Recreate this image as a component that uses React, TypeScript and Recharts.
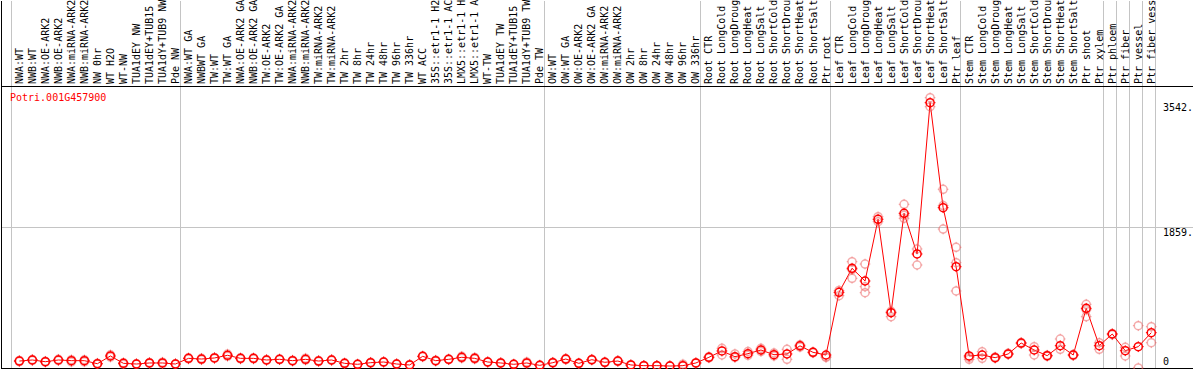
import React from "react";
import { ComposedChart, Line, XAxis, YAxis, ReferenceLine } from "recharts";

const labels: string[] = [
  "NWA:WT", "NWB:WT", "NWA:OE-ARK2", "NWB:OE-ARK2", "NWA:miRNA-ARK2", "NWB:miRNA-ARK2", "NW 0hr", "WT H2O", "WT-NW", "TUA1dEY NW", "TUA1dEY+TUB15", "TUA1dY+TUB9 NW", "Pde NW",
  "NWA:WT GA", "NWBWT GA", "TW:WT", "TW:WT GA", "NWA:OE-ARK2 GA", "NWB:OE-ARK2 GA", "TW:OE-ARK2", "TW:OE-ARK2 GA", "NWA:miRNA-ARK2", "NWB:miRNA-ARK2", "TW:miRNA-ARK2", "TW:miRNA-ARK2", "TW 2hr", "TW 8hr", "TW 24hr", "TW 48hr", "TW 96hr", "TW 336hr", "WT ACC", "35S::etr1-1 H2", "35S::etr1-1 AC", "LMX5::etr1-1 H", "LMX5::etr1-1 A", "WT-TW", "TUA1dEY TW", "TUA1dEY+TUB15", "TUA1dY+TUB9 TW", "Pde TW",
  "OW:WT", "OW:WT GA", "OW:OE-ARK2", "OW:OE-ARK2 GA", "OW:miRNA-ARK2", "OW:miRNA-ARK2", "OW 2hr", "OW 8hr", "OW 24hr", "OW 48hr", "OW 96hr", "OW 336hr",
  "Root CTR", "Root LongCold", "Root LongDroug", "Root LongHeat", "Root LongSalt", "Root ShortCold", "Root ShortDrou", "Root ShortHeat", "Root ShortSalt", "Ptr root",
  "Leaf CTR", "Leaf LongCold", "Leaf LongDroug", "Leaf LongHeat", "Leaf LongSalt", "Leaf ShortCold", "Leaf ShortDrou", "Leaf ShortHeat", "Leaf ShortSalt", "Ptr leaf",
  "Stem CTR", "Stem LongCold", "Stem LongDroug", "Stem LongHeat", "Stem LongSalt", "Stem ShortCold", "Stem ShortDrou", "Stem ShortHeat", "Stem ShortSalt", "Ptr shoot", "Ptr xylem",
  "Ptr phloem", "Ptr fiber", "Ptr vessel", "Ptr fiber vess",
];

const means: number[] = [
  72, 86, 63, 86, 77, 77, 36, 140, 41, 32, 46, 46, 32,
  108, 99, 113, 149, 108, 108, 86, 95, 77, 95, 72, 86, 41, 28, 50, 59, 32, 19, 135, 77, 95, 122, 108, 59, 46, 28, 46, 14,
  50, 99, 41, 90, 55, 72, 19, 10, 10, 5, 10, 46,
  122, 207, 130, 171, 220, 157, 167, 276, 189, 153,
  995, 1318, 1147, 1976, 721, 2056, 1510, 3542, 2132, 1339,
  140, 153, 117, 167, 314, 220, 144, 278, 153, 780, 278,
  435, 211, 265, 453,
];

const rep1: number[] = [
  80, 92, 58, 95, 60, 62, 30, 155, 30, 28, 40, 35, 30,
  115, 90, 120, 165, 100, 115, 80, 90, 70, 110, 65, 80, 35, 25, 45, 55, 28, 15, 140, 70, 100, 135, 120, 55, 40, 25, 60, 10,
  55, 105, 45, 95, 50, 78, 15, 8, 8, 4, 30, 50,
  130, 243, 167, 200, 243, 180, 230, 290, 195, 130,
  950, 1406, 1375, 2011, 668, 2177, 1577, 3609, 2379, 1600,
  95, 197, 125, 175, 320, 265, 150, 368, 160, 834, 318,
  440, 257, 547, 533,
];

const rep2: number[] = [
  65, 80, 68, 78, 90, 88, 42, 125, 50, 36, 52, 56, 34,
  100, 108, 106, 135, 115, 100, 92, 100, 84, 85, 80, 92, 48, 32, 55, 63, 36, 24, 128, 84, 90, 110, 98, 63, 52, 32, 38, 18,
  45, 92, 37, 85, 60, 66, 23, 12, 12, 7, 6, 42,
  114, 153, 120, 149, 200, 140, 95, 260, 182, 120,
  1020, 1183, 1071, 1944, 740, 1989, 1362, 3488, 1845, 1393,
  120, 108, 110, 160, 305, 153, 135, 230, 145, 668, 230,
  425, 140, -20, 318,
];

const rep3Pairs: [number, number][] = [
  [64, 1300], [65, 990], [68, 2030], [72, 1013], [71, 2160], [82, 760],
];

const groupBoundaries: number[] = [0, 13, 41, 53, 63, 73, 84, 85, 86, 87, 88];
const yTicks: number[] = [0, 1859, 3542];
const yTickLabels: string[] = ["0", "1859.", "3542."];
const title = "Potri.001G457900";

const X_OFFSET = 0.64;
const X_DOMAIN: [number, number] = [-10 / 13, 1181 / 13];
const Y_DOMAIN: [number, number] = [-35.0, 4907.9];
const HEADER_Y = 3759.6;
const FRAME_BOTTOM_Y = -28.2;
const FRAME_LEFT_X = -9.5 / 13;
const FRAME_RIGHT_X = 1181.5 / 13;

const rep3: (number | null)[] = labels.map(() => null);
rep3Pairs.forEach(([i, v]) => {
  rep3[i] = v;
});

const data = labels.map((label, i) => ({
  x: i + X_OFFSET,
  label,
  mean: means[i],
  r1: rep1[i],
  r2: rep2[i],
  r3: rep3[i],
}));

const xTicks = data.map((d) => d.x);

const FONT = "'DejaVu Sans Mono', monospace";

const markerPath = (cx: number, cy: number) =>
  `M${cx} ${cy - 5.4}V${cy - 4}M${cx} ${cy + 4}V${cy + 5.4}M${cx - 5.4} ${cy}H${cx - 4}M${cx + 4} ${cy}H${cx + 5.4}`;

const MainDot = (props: any) => {
  const { cx, cy, index } = props;
  if (cx == null || cy == null || isNaN(cy)) return <g key={`m${index}`} />;
  return (
    <g key={`m${index}`}>
      <circle cx={cx} cy={cy} r={4} fill="none" stroke="#ff0000" strokeWidth={1.5} />
      <path d={markerPath(cx, cy)} stroke="#ff0000" strokeWidth={1} />
    </g>
  );
};

const RepDot = (props: any) => {
  const { cx, cy, index, dataKey } = props;
  if (cx == null || cy == null || isNaN(cy)) return <g key={`${dataKey}${index}`} />;
  return (
    <g key={`${dataKey}${index}`}>
      <circle cx={cx} cy={cy} r={4} fill="none" stroke="rgba(235,90,90,0.5)" strokeWidth={1.5} />
      <path d={markerPath(cx, cy)} stroke="rgba(235,90,90,0.5)" strokeWidth={1} />
    </g>
  );
};

const renderXTick = (props: any) => {
  const { x, payload, index } = props;
  const i = Math.round(payload.value - X_OFFSET);
  const bx = x + 3.5;
  const by = 84;
  return (
    <text
      key={`xt${index}`}
      x={bx}
      y={by}
      transform={`rotate(-90 ${bx} ${by})`}
      fontFamily={FONT}
      fontSize={10}
      fill="#000"
      textAnchor="start"
    >
      {labels[i]}
    </text>
  );
};

const renderYTick = (props: any) => {
  const { y, payload, index } = props;
  const idx = yTicks.indexOf(payload.value);
  return (
    <text
      key={`yt${index}`}
      x={1163}
      y={y + (payload.value === 0 ? -1 : 8)}
      fontFamily={FONT}
      fontSize={10}
      fill="#000"
      textAnchor="start"
    >
      {yTickLabels[idx]}
    </text>
  );
};

export default function App() {
  return (
    <div style={{ position: "absolute", left: 0, top: 0, width: 1194, height: 370, background: "#fff" }}>
      <ComposedChart width={1194} height={370} data={data} margin={{ top: 0, right: 0, bottom: 1, left: 1 }}>
        <XAxis
          xAxisId={0}
          type="number"
          dataKey="x"
          orientation="top"
          height={1}
          domain={X_DOMAIN}
          allowDataOverflow
          ticks={xTicks}
          interval={0}
          tickLine={false}
          axisLine={false}
          tick={renderXTick}
        />
        <YAxis
          yAxisId={0}
          type="number"
          orientation="right"
          width={1}
          domain={Y_DOMAIN}
          allowDataOverflow
          ticks={yTicks}
          interval={0}
          tickLine={false}
          axisLine={false}
          tick={renderYTick}
        />
        {groupBoundaries.map((k) => (
          <ReferenceLine key={`g${k}`} x={k} stroke="#c4c4c4" strokeWidth={1} shapeRendering="crispEdges" />
        ))}
        <ReferenceLine y={1859} stroke="#c4c4c4" strokeWidth={1} shapeRendering="crispEdges" />
        <ReferenceLine y={HEADER_Y} stroke="#000" strokeWidth={1} shapeRendering="crispEdges" />
        <ReferenceLine y={FRAME_BOTTOM_Y} stroke="#000" strokeWidth={1} shapeRendering="crispEdges" />
        <ReferenceLine x={FRAME_LEFT_X} stroke="#000" strokeWidth={1} shapeRendering="crispEdges" />
        <ReferenceLine x={FRAME_RIGHT_X} stroke="#000" strokeWidth={1} shapeRendering="crispEdges" />
        <Line dataKey="r1" stroke="none" dot={<RepDot />} activeDot={false} isAnimationActive={false} legendType="none" />
        <Line dataKey="r2" stroke="none" dot={<RepDot />} activeDot={false} isAnimationActive={false} legendType="none" />
        <Line dataKey="r3" stroke="none" dot={<RepDot />} activeDot={false} isAnimationActive={false} legendType="none" />
        <Line dataKey="mean" stroke="#ff0000" strokeWidth={1} dot={<MainDot />} activeDot={false} isAnimationActive={false} />
      </ComposedChart>
      <div
        style={{
          position: "absolute",
          left: 10,
          top: 92,
          fontFamily: FONT,
          fontSize: 10,
          lineHeight: "12px",
          color: "#ff0000",
          whiteSpace: "nowrap",
        }}
      >
        {title}
      </div>
    </div>
  );
}
